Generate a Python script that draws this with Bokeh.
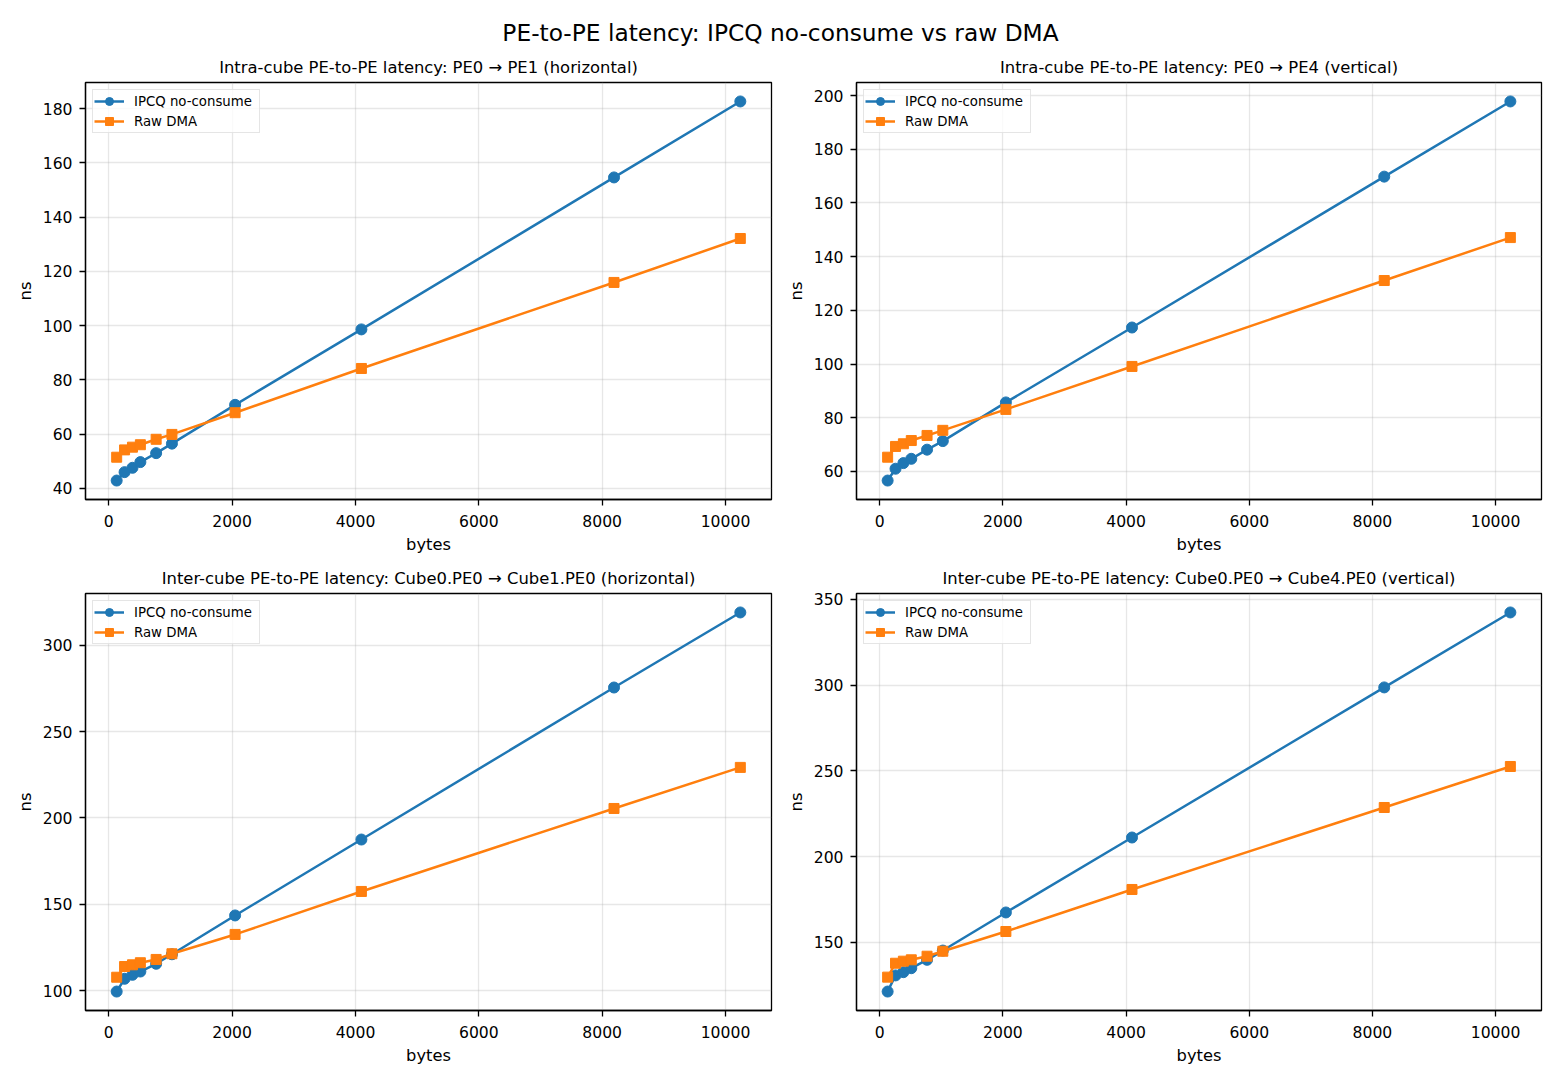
from bokeh.plotting import figure
from bokeh.layouts import column, row
from bokeh.models import Range1d, SingleIntervalTicker, Legend
from bokeh.core.properties import value
from bokeh.embed import file_html
from bokeh.resources import INLINE

suptitle = "PE-to-PE latency: IPCQ no-consume vs raw DMA"
x_bytes = [128, 256, 384, 512, 768, 1024, 2048, 4096, 8192, 10240]
x_tick_step = 2000

titles = [
    "Intra-cube PE-to-PE latency: PE0 \u2192 PE1 (horizontal)",
    "Intra-cube PE-to-PE latency: PE0 \u2192 PE4 (vertical)",
    "Inter-cube PE-to-PE latency: Cube0.PE0 \u2192 Cube1.PE0 (horizontal)",
    "Inter-cube PE-to-PE latency: Cube0.PE0 \u2192 Cube4.PE0 (vertical)",
]

p1_ipcq = [42.9, 46.0, 47.6, 49.7, 53.0, 56.5, 70.8, 98.6, 154.6, 182.6]
p1_dma = [51.5, 54.2, 55.2, 56.1, 58.1, 59.9, 67.9, 84.2, 115.9, 132.1]
p2_ipcq = [56.6, 61.0, 63.1, 64.7, 68.1, 71.3, 85.7, 113.6, 169.8, 197.8]
p2_dma = [65.3, 69.3, 70.3, 71.5, 73.4, 75.3, 83.1, 99.1, 131.1, 147.1]
p3_ipcq = [99.4, 106.8, 109.1, 111.0, 115.5, 121.0, 143.5, 187.5, 275.6, 319.1]
p3_dma = [107.7, 113.9, 114.9, 116.1, 118.0, 121.3, 132.5, 157.4, 205.5, 229.3]
p4_ipcq = [121.4, 130.8, 132.7, 135.0, 139.9, 145.3, 167.5, 211.2, 298.7, 342.4]
p4_dma = [129.8, 137.9, 139.1, 139.9, 142.0, 144.9, 156.4, 180.9, 228.7, 252.6]

y_tick_steps = [20, 20, 50, 50]
series_names = ["IPCQ no-consume", "Raw DMA"]
colors = ["#1f77b4", "#ff7f0e"]
markers = ["circle", "square"]

FONT = "DejaVu Sans"


def pad_range(vals, frac=0.05):
    lo, hi = min(vals), max(vals)
    d = (hi - lo) * frac
    return Range1d(lo - d, hi + d)


def make_panel(title, ipcq, dma, ystep, width, height, bl, br, bt, bb):
    p = figure(width=width, height=height, output_backend="svg",
               toolbar_location=None, title=title,
               x_range=pad_range(x_bytes), y_range=pad_range(ipcq + dma),
               min_border_left=bl, min_border_right=br,
               min_border_top=bt, min_border_bottom=bb)
    p.title.align = "center"
    p.title.text_font = FONT
    p.title.text_font_size = "16.4px"
    p.title.text_font_style = "normal"
    p.title.text_color = "black"
    p.title.standoff = 11

    p.outline_line_color = "black"
    p.outline_line_width = 1.3
    p.outline_line_alpha = 1.0

    p.xaxis.ticker = SingleIntervalTicker(interval=x_tick_step)
    p.yaxis.ticker = SingleIntervalTicker(interval=ystep)
    p.xaxis.axis_label = "bytes"
    p.yaxis.axis_label = "ns"
    for ax in (p.xaxis, p.yaxis):
        ax.axis_line_color = "black"
        ax.axis_line_width = 1.3
        ax.major_tick_line_color = "black"
        ax.major_tick_line_width = 1.3
        ax.major_tick_out = 6
        ax.major_tick_in = 0
        ax.minor_tick_out = 0
        ax.minor_tick_in = 0
        ax.major_label_text_font = FONT
        ax.major_label_text_font_size = "15.6px"
        ax.major_label_text_color = "black"
        ax.axis_label_text_font = FONT
        ax.axis_label_text_font_size = "16.3px"
        ax.axis_label_text_font_style = "normal"
        ax.axis_label_text_color = "black"
    p.xaxis.major_label_standoff = 9
    p.yaxis.major_label_standoff = 7
    p.xaxis.axis_label_standoff = 5
    p.yaxis.axis_label_standoff = 5

    p.grid.grid_line_color = "#b0b0b0"
    p.grid.grid_line_alpha = 0.3
    p.grid.grid_line_width = 1.3

    items = []
    for name, ys, c, m in zip(series_names, [ipcq, dma], colors, markers):
        ln = p.line(x_bytes, ys, line_color=c, line_width=2.5)
        sz = 11 if m == "circle" else 10
        sc = p.scatter(x_bytes, ys, marker=m, size=sz, fill_color=c,
                       line_color=c, line_width=1)
        items.append((name, [ln, sc]))
    leg = Legend(items=items, location="top_left")
    leg.margin = 7
    leg.padding = 1
    leg.spacing = 0
    leg.glyph_width = 30
    leg.glyph_height = 20
    leg.label_height = 20
    leg.label_width = 124
    leg.label_standoff = 10
    leg.label_text_font = FONT
    leg.label_text_font_size = "13.3px"
    leg.label_text_color = "black"
    leg.border_line_color = "#cccccc"
    leg.border_line_width = 1
    leg.background_fill_color = "white"
    leg.background_fill_alpha = 0.8
    p.add_layout(leg, "center")
    return p


header = figure(width=1552, height=48, output_backend="svg",
                toolbar_location=None, x_range=Range1d(0, 1552),
                y_range=Range1d(0, 48), min_border=0)
header.axis.visible = False
header.grid.visible = False
header.outline_line_color = None
header.text(x=[780], y=[16], text=[suptitle], text_align="center",
            text_baseline="middle", text_font=value(FONT),
            text_font_size="23.3px", text_color="black")

p1 = make_panel(titles[0], p1_ipcq, p1_dma, y_tick_steps[0], 779, 512, 85, 8, 34, 61)
p2 = make_panel(titles[1], p2_ipcq, p2_dma, y_tick_steps[1], 773, 512, 77, 11, 34, 61)
p3 = make_panel(titles[2], p3_ipcq, p3_dma, y_tick_steps[2], 779, 512, 85, 8, 33, 62)
p4 = make_panel(titles[3], p4_ipcq, p4_dma, y_tick_steps[3], 773, 512, 77, 11, 33, 62)

layout = column(header, row(p1, p2), row(p3, p4))
open("out.html", "w").write(file_html(layout, INLINE))
